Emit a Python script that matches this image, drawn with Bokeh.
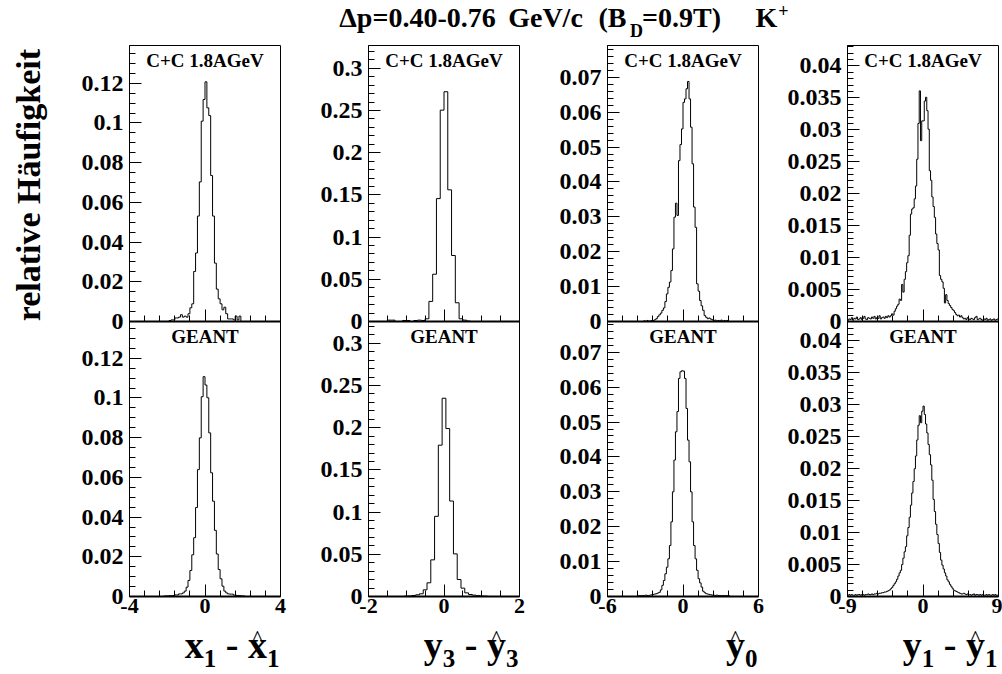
import math
from bokeh.plotting import figure
from bokeh.layouts import column, row
from bokeh.models import (Range1d, FixedTicker, CustomJSTickFormatter, Label,
                          LinearAxis, ColumnDataSource)
from bokeh.transform import dodge
from bokeh.core.properties import value
from bokeh.embed import file_html
from bokeh.resources import INLINE

FONT = "Liberation Serif"

# ---------------- data (relative frequencies per bin) ----------------
# column 1 : x1 - x1^
X1_DATA_LO, X1_DATA_BIN = -1.9, 0.1
X1_DATA = [0.0005, 0.0008, 0.0008, 0.0018, 0.0018, 0.0022, 0.0034, 0.0022, 0.0027, 0.0022,
           0.0039, 0.0069, 0.0089, 0.0252, 0.0345, 0.0531, 0.0703, 0.1009, 0.1118, 0.1207,
           0.1076, 0.1037, 0.0735, 0.0531, 0.0294, 0.0163, 0.0114, 0.0089, 0.0059, 0.0072,
           0.0039, 0.0013, 0.0013, 0.0013, 0.0008, 0.0027, 0.0008, 0.0027]
X1_SIM_LO, X1_SIM_BIN = -2.2, 0.1
X1_SIM = [0.0002, 0.0003, 0.0003, 0.0004, 0.0004, 0.0005, 0.0008, 0.0008, 0.0013, 0.0013,
          0.0018, 0.0027, 0.0047, 0.0081, 0.0131, 0.0210, 0.0296, 0.0448, 0.0639, 0.0799,
          0.1006, 0.1107, 0.1065, 0.1001, 0.0824, 0.0623, 0.0480, 0.0333, 0.0214, 0.0136,
          0.0089, 0.0052, 0.0027, 0.0018, 0.0013, 0.0012, 0.0012, 0.0007, 0.0006, 0.0005,
          0.0004, 0.0003, 0.0003]

# column 2 : y3 - y3^
Y3_DATA_LO, Y3_DATA_BIN = -1.5, 0.1
Y3_DATA = [0.0016, 0.0016, 0.0, 0.0, 0.0012, 0.0012, 0.0, 0.0012, 0.0016, 0.0012,
           0.0032, 0.0238, 0.0560, 0.1456, 0.2504, 0.2722, 0.1560, 0.0782, 0.0222, 0.0032,
           0.0016, 0.0005]
Y3_SIM_LO, Y3_SIM_BIN = -1.05, 0.1
Y3_SIM = [0.0004, 0.0006, 0.0012, 0.0020, 0.0032, 0.0079, 0.0162, 0.0434, 0.0950, 0.1793,
          0.2349, 0.1990, 0.1131, 0.0505, 0.0201, 0.0099, 0.0043, 0.0024, 0.0016, 0.0010,
          0.0006, 0.0004]

# column 3 : y0^
Y0_DATA_LO, Y0_DATA_BIN = -3.12, 0.12
Y0_DATA = [0.0002, 0.0, 0.0003, 0.0, 0.0002, 0.0003, 0.0003, 0.0005, 0.0008, 0.0014,
           0.0019, 0.0024, 0.0032, 0.0039, 0.0057, 0.0079, 0.0098, 0.0113, 0.0146, 0.0208,
           0.0299, 0.0339, 0.0304, 0.0461, 0.0507, 0.0552, 0.0628, 0.0638, 0.0667, 0.0688,
           0.0638, 0.0557, 0.0452, 0.0328, 0.0270, 0.0108, 0.0087, 0.0060, 0.0045, 0.0032,
           0.0017, 0.0012, 0.0008, 0.0010, 0.0007, 0.0005, 0.0003, 0.0004, 0.0002, 0.0003,
           0.0002, 0.0004, 0.0, 0.0003, 0.0002, 0.0003]
Y0_SIM_LO, Y0_SIM_BIN = -3.6, 0.12
Y0_SIM = [0.0002, 0.0003, 0.0002, 0.0003, 0.0002, 0.0004, 0.0003, 0.0003, 0.0004, 0.0005,
          0.0006, 0.0007, 0.0008, 0.0010, 0.0012, 0.0019, 0.0032, 0.0046, 0.0065, 0.0084,
          0.0108, 0.0146, 0.0214, 0.0300, 0.0391, 0.0472, 0.0530, 0.0625, 0.0644, 0.0647,
          0.0646, 0.0625, 0.0539, 0.0448, 0.0386, 0.0300, 0.0214, 0.0146, 0.0108, 0.0075,
          0.0051, 0.0039, 0.0027, 0.0015, 0.0011, 0.0008, 0.0007, 0.0006, 0.0005, 0.0004,
          0.0004, 0.0003, 0.0004, 0.0003, 0.0003, 0.0002, 0.0003, 0.0002, 0.0003, 0.0002,
          0.0002]

# column 4 : y1 - y1^
Y1_DATA_LO, Y1_DATA_BIN = -9.0, 0.15
Y1_DATA = [0.0002, 0.0004, 0.0003, 0.0006, 0.0002, 0.0005, 0.0004, 0.0007, 0.0003, 0.0004,
           0.0006, 0.0003, 0.0005, 0.0008, 0.0004, 0.0003, 0.0006, 0.0005, 0.0004, 0.0007,
           0.0005, 0.0008, 0.0004, 0.0006, 0.0005, 0.0009, 0.0004, 0.0006, 0.0007, 0.0005,
           0.0008, 0.0006, 0.0009, 0.0007,
           0.0009, 0.0012, 0.0010, 0.0016, 0.0020, 0.0024, 0.0027, 0.0035, 0.0033, 0.0058,
           0.0046, 0.0066, 0.0078, 0.0092, 0.0103, 0.0135, 0.0168, 0.0176, 0.0178, 0.0192,
           0.0212,
           0.0254, 0.0310, 0.0361, 0.0283, 0.0314, 0.0314, 0.0345, 0.0351, 0.0330, 0.0301,
           0.0236, 0.0221, 0.0195, 0.0180, 0.0163, 0.0137, 0.0122, 0.0112, 0.0072, 0.0066,
           0.0062, 0.0052, 0.0029, 0.0042, 0.0033, 0.0028, 0.0025, 0.0022, 0.0019, 0.0017,
           0.0014, 0.0011, 0.0009, 0.0010, 0.0007, 0.0009, 0.0006,
           0.0004, 0.0005, 0.0003, 0.0006, 0.0004, 0.0003, 0.0005, 0.0004, 0.0003, 0.0006,
           0.0008, 0.0003, 0.0004, 0.0005, 0.0003, 0.0002, 0.0004, 0.0003, 0.0005, 0.0002,
           0.0003, 0.0004, 0.0002, 0.0003, 0.0004, 0.0002, 0.0003, 0.0004]
Y1_SIM_LO, Y1_SIM_BIN = -9.0, 0.15
Y1_SIM = [0.0002, 0.0003, 0.0002, 0.0003, 0.0002, 0.0002, 0.0003, 0.0002, 0.0003, 0.0003,
          0.0002, 0.0003, 0.0003, 0.0002, 0.0003, 0.0003, 0.0004, 0.0003, 0.0003, 0.0004,
          0.0003, 0.0004, 0.0004, 0.0005, 0.0004, 0.0005, 0.0005, 0.0006,
          0.0006, 0.0007, 0.0007, 0.0008, 0.0009, 0.0010, 0.0012, 0.0014, 0.0017, 0.0020,
          0.0023, 0.0027, 0.0032, 0.0037, 0.0041, 0.0050, 0.0060, 0.0070, 0.0078, 0.0095,
          0.0108, 0.0124, 0.0143, 0.0162, 0.0180, 0.0200, 0.0220, 0.0245, 0.0268, 0.0283,
          0.0272, 0.0290,
          0.0298, 0.0285, 0.0270, 0.0256, 0.0238, 0.0222, 0.0206, 0.0182, 0.0152, 0.0133,
          0.0113, 0.0097, 0.0083, 0.0069, 0.0057, 0.0049, 0.0043, 0.0037, 0.0032, 0.0026,
          0.0023, 0.0019, 0.0016, 0.0013, 0.0010, 0.0009, 0.0008, 0.0007, 0.0006, 0.0005,
          0.0004, 0.0004, 0.0005, 0.0004, 0.0003, 0.0004,
          0.0003, 0.0003, 0.0002, 0.0003, 0.0004, 0.0002, 0.0003, 0.0003, 0.0002, 0.0003,
          0.0002, 0.0003, 0.0002, 0.0002, 0.0003, 0.0002, 0.0003, 0.0002, 0.0002, 0.0003,
          0.0002, 0.0003, 0.0002, 0.0002]

# ---------------- axes ----------------
X_MAJOR = [[-4, 0, 4], [-2, 0, 2], [-6, 0, 6], [-9, 0, 9]]
X_MINOR_STEP = [0.8, 0.5, 1.2, 1.8]
Y_MAJOR = [[0, 0.02, 0.04, 0.06, 0.08, 0.1, 0.12],
           [0, 0.05, 0.1, 0.15, 0.2, 0.25, 0.3],
           [0, 0.01, 0.02, 0.03, 0.04, 0.05, 0.06, 0.07],
           [0, 0.005, 0.01, 0.015, 0.02, 0.025, 0.03, 0.035, 0.04]]
Y_MINOR_STEP = [0.005, 0.01, 0.002, 0.001]
Y_TOP = [0.139, 0.327, 0.0791, 0.0432]

TITLE_PARTS = ["Δp=0.40-0.76", "GeV/c", "(B", "D", "=0.9T)", "K", "+"]
YLABEL = "relative Häufigkeit"
DATA_TAG = "C+C 1.8AGeV"
SIM_TAG = "GEANT"
# m = main letter, s = subscript, h = letter with hat, sp = space
X_TITLES = [[("x", "m"), ("1", "s"), (" ", "sp"), ("-", "m"), (" ", "sp"), ("x", "h"), ("1", "s")],
            [("y", "m"), ("3", "s"), (" ", "sp"), ("-", "m"), (" ", "sp"), ("y", "h"), ("3", "s")],
            [("y", "h"), ("0", "s")],
            [("y", "m"), ("1", "s"), (" ", "sp"), ("-", "m"), (" ", "sp"), ("y", "h"), ("1", "s")]]

HISTS = [(X1_DATA_LO, X1_DATA_BIN, X1_DATA, X1_SIM_LO, X1_SIM_BIN, X1_SIM),
         (Y3_DATA_LO, Y3_DATA_BIN, Y3_DATA, Y3_SIM_LO, Y3_SIM_BIN, Y3_SIM),
         (Y0_DATA_LO, Y0_DATA_BIN, Y0_DATA, Y0_SIM_LO, Y0_SIM_BIN, Y0_SIM),
         (Y1_DATA_LO, Y1_DATA_BIN, Y1_DATA, Y1_SIM_LO, Y1_SIM_BIN, Y1_SIM)]

# ---------------- layout constants ----------------
COL_W = [232, 239, 239, 232]
COL_L = [69, 76, 76, 77]
COL_R = [12, 12, 12, 4]
FRAME_RIGHT = [280, 519, 758, 998]
HDR_H, BODY_H, FTR_H = 40, 584, 50


def outline(lo, width, vals):
    xs, ys = [lo], [0.0]
    for i, v in enumerate(vals):
        xs += [lo + i * width, lo + (i + 1) * width]
        ys += [v, v]
    xs.append(lo + len(vals) * width)
    ys.append(0.0)
    return xs, ys


def steps(step, top):
    n = int(top / step + 1e-9)
    return [round(i * step, 6) for i in range(n + 1)]


def panel(k):
    T = Y_TOP[k]
    D = T * 275.0 / 276.0
    xr = Range1d(X_MAJOR[k][0], X_MAJOR[k][-1])
    p = figure(width=COL_W[k], height=BODY_H, x_range=xr, y_range=Range1d(-D, T),
               output_backend="svg", toolbar_location=None, tools="",
               min_border_left=COL_L[k], min_border_right=COL_R[k],
               min_border_top=5, min_border_bottom=28)
    p.grid.visible = False
    p.outline_line_color = "black"
    p.outline_line_width = 1
    p.background_fill_color = "white"
    p.border_fill_color = "white"

    xmin = [round(X_MAJOR[k][0] + i * X_MINOR_STEP[k], 6)
            for i in range(int(round((X_MAJOR[k][-1] - X_MAJOR[k][0]) / X_MINOR_STEP[k])) + 1)]
    xt = FixedTicker(ticks=X_MAJOR[k], minor_ticks=xmin)
    yt_major = list(Y_MAJOR[k]) + [t - D for t in Y_MAJOR[k]]
    yt_minor = steps(Y_MINOR_STEP[k], T) + [m - D for m in steps(Y_MINOR_STEP[k], D)]
    yt = FixedTicker(ticks=yt_major, minor_ticks=yt_minor)

    xfmt = CustomJSTickFormatter(code="return String(parseFloat(tick.toFixed(5)));")
    yfmt = CustomJSTickFormatter(args=dict(D=D), code="""
        const v = tick < -1e-9 ? tick + D : tick;
        return String(parseFloat(v.toFixed(5)));
    """)

    def style_axis(ax, label_size):
        ax.axis_line_color = "black"
        ax.major_tick_line_color = "black"
        ax.minor_tick_line_color = "black"
        ax.major_tick_in = 12
        ax.major_tick_out = 0
        ax.minor_tick_in = 6
        ax.minor_tick_out = 0
        ax.major_label_text_font = FONT
        ax.major_label_text_font_style = "bold"
        ax.major_label_text_font_size = label_size
        ax.major_label_text_color = "black"

    xa = p.xaxis[0]
    xa.ticker = xt
    xa.formatter = xfmt
    style_axis(xa, "22px")
    xa.axis_line_width = 2
    xa.major_label_standoff = 2

    ya = p.yaxis[0]
    ya.ticker = yt
    ya.formatter = yfmt
    style_axis(ya, "24px")
    ya.major_label_standoff = 6

    # x axis of the upper (data) panel, sitting on its zero line
    mid = LinearAxis(fixed_location=0, ticker=FixedTicker(ticks=X_MAJOR[k], minor_ticks=xmin),
                     formatter=xfmt)
    style_axis(mid, "0px")
    mid.axis_line_width = 2
    mid.major_label_standoff = 0
    mid.major_label_text_alpha = 0
    p.add_layout(mid, "below")

    dlo, dbin, dvals, slo, sbin, svals = HISTS[k]
    xs, ys = outline(dlo, dbin, dvals)
    p.line(xs, ys, line_color="black", line_width=1)
    sx, sy = outline(slo, sbin, svals)
    src = ColumnDataSource(dict(x=sx, v=sy))
    p.line(x="x", y=dodge("v", -D), source=src, line_color="black", line_width=1)

    for txt, yy in ((DATA_TAG, T), (SIM_TAG, 0)):
        p.add_layout(Label(x=0, y=yy, y_offset=-4, text=txt, text_align="center",
                           text_baseline="top", text_font=FONT, text_font_style="bold",
                           text_font_size="19px", text_color="black"))
    return p


def blank(width, height):
    f = figure(width=width, height=height, x_range=Range1d(0, width), y_range=Range1d(0, height),
               x_axis_type=None, y_axis_type=None, output_backend="svg",
               toolbar_location=None, tools="", min_border=0)
    f.outline_line_color = None
    f.grid.visible = False
    return f


# header
hdr = blank(1002, HDR_H)
big = dict(text_font=value(FONT), text_font_style="bold", text_color="black",
           text_align="center", text_baseline="alphabetic")
hdr.text(x=[417, 545, 612, 681, 766], y=[23.5] * 5,
         text=[TITLE_PARTS[0], TITLE_PARTS[1], TITLE_PARTS[2], TITLE_PARTS[4], TITLE_PARTS[5]],
         text_font_size="28px", **big)
hdr.text(x=[636], y=[10], text=[TITLE_PARTS[3]], text_font_size="18px", **big)
hdr.text(x=[783], y=[30], text=[TITLE_PARTS[6]], text_font_size="18px", **big)

# y label
ylab = blank(60, BODY_H)
ylab.text(x=[28], y=[BODY_H - (188 - HDR_H)], text=[YLABEL], angle=math.pi / 2,
          text_font=value(FONT), text_font_style="bold", text_font_size="34px",
          text_color="black", text_align="center", text_baseline="middle")

# footer with axis titles
ftr = blank(1002, FTR_H)
EM = {"x": 0.5, "y": 0.5, "-": 0.333, " ": 0.25, "0": 0.5, "1": 0.5, "3": 0.5}
MAIN_S, SUB_S, HAT_S = 38, 25, 24
mx, mt, sx_, st, hx = [], [], [], [], []
for k, parts in enumerate(X_TITLES):
    widths = [sum(EM[c] for c in t) * (SUB_S if kind == "s" else MAIN_S) for t, kind in parts]
    pos = FRAME_RIGHT[k] - 1 - sum(widths)
    for (t, kind), w in zip(parts, widths):
        if kind == "s":
            sx_.append(pos); st.append(t)
        elif kind in ("m", "h"):
            mx.append(pos); mt.append(t)
            if kind == "h":
                hx.append(pos + w / 2)
        pos += w
left = dict(text_font=value(FONT), text_font_style="bold", text_color="black",
            text_align="left", text_baseline="alphabetic")
ftr.text(x=mx, y=[30] * len(mx), text=mt, text_font_size=f"{MAIN_S}px", **left)
ftr.text(x=sx_, y=[16] * len(sx_), text=st, text_font_size=f"{SUB_S}px", **left)
ftr.text(x=hx, y=[FTR_H - 0.5] * len(hx), text=["^"] * len(hx), text_font=value(FONT),
         text_font_style="normal", text_font_size=f"{HAT_S}px", text_color="black",
         text_align="center", text_baseline="top")

panels = [panel(k) for k in range(4)]
layout = column(hdr, row(ylab, *panels), ftr)

open("out.html", "w").write(file_html(layout, INLINE, title="K+ residuals"))
